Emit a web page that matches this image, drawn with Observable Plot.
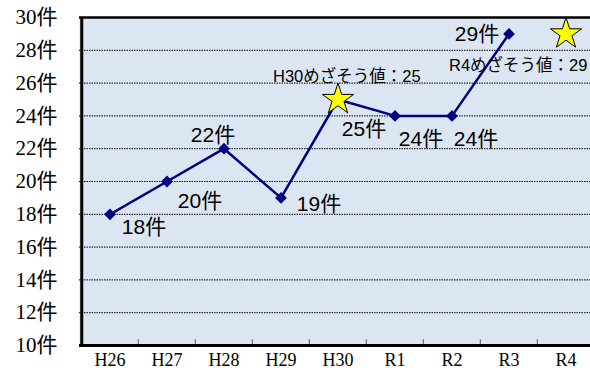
<!DOCTYPE html>
<html>
<head>
<meta charset="utf-8">
<script src="https://cdn.jsdelivr.net/npm/d3@7"></script>
<script src="https://cdn.jsdelivr.net/npm/@observablehq/plot@0.6"></script>
<style>
  html, body { margin: 0; padding: 0; background: #fff; }
  #chart svg { display: block; }
</style>
</head>
<body>
<div id="chart"></div>
<script>
// ---- data ----
const years = ["H26", "H27", "H28", "H29", "H30", "R1", "R2", "R3", "R4"];
const actualYears = ["H26", "H27", "H28", "H29", "H30", "R1", "R2", "R3"];
const counts = [18, 20, 22, 19, 25, 24, 24, 29];
const targetYears = ["H30", "R4"];
const targetValues = [25, 29];
const targetLabels = ["H30めざそう値：25", "R4めざそう値：29"];
const yTicks = [10, 12, 14, 16, 18, 20, 22, 24, 26, 28, 30];
const unit = "件";

// ---- style ----
const NAVY = "#000080";
const BG = "#dce6f2";
const SERIF = "'Liberation Serif', 'Noto Sans CJK JP', serif";
const SANS = "'Liberation Sans', 'Noto Sans CJK JP', sans-serif";
const BAND = (596.5 - 79) / years.length;

const idx = actualYears.map((_, i) => i);
const tIdx = targetYears.map((_, i) => i);

const label = (i, dx, dy) => Plot.text([i], {
  x: j => actualYears[j], y: j => counts[j], text: j => counts[j] + unit,
  dx, dy, fontSize: 21, fontFamily: SANS, fill: "#000"
});

const chart = Plot.plot({
  width: 590,
  height: 373,
  marginLeft: 79,
  marginRight: 0,
  marginTop: 17,
  marginBottom: 28,
  x: { type: "band", domain: years, range: [79, 596.5], padding: 0, axis: null },
  y: { domain: [10, 30], range: [345, 17], axis: null },
  marks: [
    Plot.frame({ fill: BG, stroke: "none" }),
    Plot.ruleY(yTicks.slice(1, -1), { stroke: "#000", strokeWidth: 1, strokeDasharray: "1.5,1" }),
    Plot.ruleY([30], { stroke: "#000", strokeWidth: 2.5 }),
    Plot.ruleX(years.slice(1), { dx: -BAND / 2, y1: 10, y2: 10.35, stroke: "#555", strokeWidth: 1 }),
    Plot.ruleY([10], { stroke: "#000", strokeWidth: 3 }),
    Plot.ruleX([years[0]], { dx: -BAND / 2 + 0.5, y1: 10, y2: 30, stroke: "#000", strokeWidth: 3 }),
    // y tick labels
    Plot.text(yTicks, { frameAnchor: "left", y: d => d, text: d => d + unit, textAnchor: "end", dx: -22, fontSize: 21, fontFamily: SERIF, fill: "#000" }),
    // x tick labels
    Plot.text(years, { x: d => d, frameAnchor: "bottom", dy: 20, fontSize: 18, fontFamily: SERIF, fill: "#000" }),
    // series
    Plot.line(idx, { x: i => actualYears[i], y: i => counts[i], stroke: NAVY, strokeWidth: 2.5 }),
    Plot.dot(idx, { x: i => actualYears[i], y: i => counts[i], symbol: "diamond2", r: 5.3, fill: NAVY, stroke: "none" }),
    // targets
    Plot.dot(tIdx, { x: i => targetYears[i], y: i => targetValues[i], symbol: "star", r: 9.8, fill: "#ffff00", stroke: "#000", strokeWidth: 1 }),
    Plot.text([0], { x: i => targetYears[i], y: i => targetValues[i], text: i => targetLabels[i], textAnchor: "start", dx: -65, dy: -23, fontSize: 16.5, fontFamily: SANS, fill: "#000" }),
    Plot.text([1], { x: i => targetYears[i], y: i => targetValues[i], text: i => targetLabels[i], textAnchor: "start", dx: -117, dy: 32, fontSize: 16.5, fontFamily: SANS, fill: "#000" }),
    // data labels
    label(0, 34, 13),
    label(1, 33, 20),
    label(2, -11, -13),
    label(3, 38, 6),
    label(4, 26, 30),
    label(5, 26, 23),
    label(6, 24, 23),
    label(7, -32, 0)
  ]
});
document.getElementById("chart").appendChild(chart);
</script>
</body>
</html>
